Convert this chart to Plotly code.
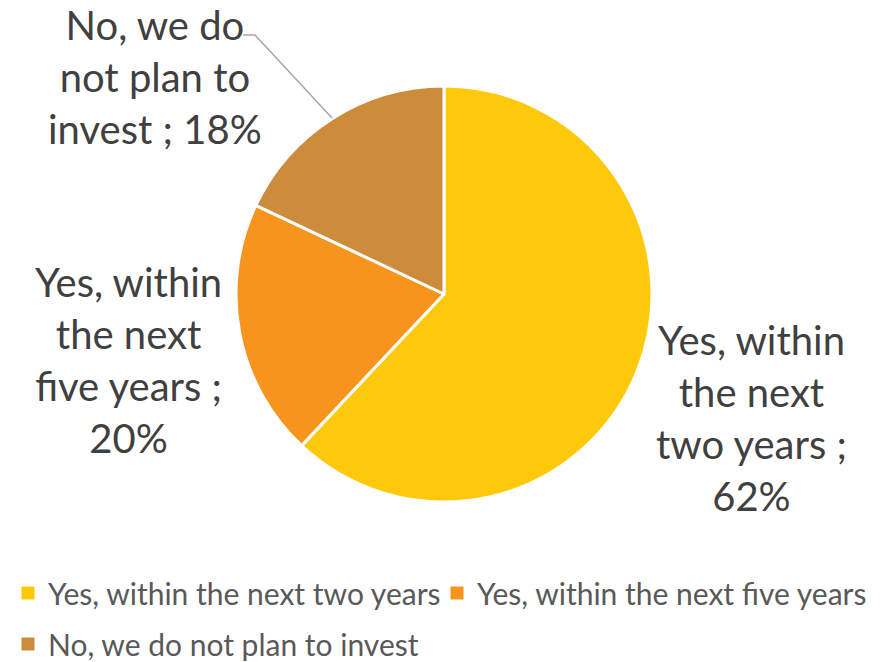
import plotly.graph_objects as go

categories = ["Yes, within the next two years", "Yes, within the next five years", "No, we do not plan to invest"]
values = [62, 20, 18]
colors = ["#FEC80B", "#F7941E", "#CD8B3C"]
label_texts = ["Yes, within<br>the next<br>two years ;<br>62%",
               "Yes, within<br>the next<br>five years ;<br>20%",
               "No, we do<br>not plan to<br>invest ; 18%"]

W, H = 892, 662
FONT = "Lato"

def px(x):
    return x / W

def py(y):
    return 1 - y / H

fig = go.Figure()
fig.add_trace(go.Pie(
    labels=categories, values=values, sort=False, direction="clockwise", rotation=0,
    marker=dict(colors=colors, line=dict(color="white", width=3)),
    textinfo="none", showlegend=False,
    domain=dict(x=[px(236), px(652)], y=[py(502), py(86)]),
))

# legend entries
for i, (c, col) in enumerate(zip(categories, colors)):
    fig.add_trace(go.Scatter(
        x=[None], y=[None], mode="markers", name=c,
        marker=dict(symbol="square", size=13, color=col),
        legend="legend" if i < 2 else "legend2",
    ))

label_pos = [(751, 418), (128, 360), (155, 77)]
anns = []
for t, (x, y) in zip(label_texts, label_pos):
    anns.append(dict(text=t, x=px(x), y=py(y), xref="paper", yref="paper",
                     xanchor="center", yanchor="middle", showarrow=False,
                     align="center", font=dict(family=FONT, size=40, color="#404040")))

leg_font = dict(family=FONT, size=30, color="#595959")
fig.update_layout(
    width=W, height=H, margin=dict(l=0, r=0, t=0, b=0, autoexpand=False),
    paper_bgcolor="white", plot_bgcolor="white",
    xaxis=dict(visible=False), yaxis=dict(visible=False),
    annotations=anns,
    shapes=[dict(type="path", xref="paper", yref="paper",
                 path=f"M {px(243)} {py(35)} L {px(255)} {py(35)} L {px(332)} {py(118)}",
                 line=dict(color="#A6A6A6", width=1.5))],
    legend=dict(orientation="h", x=px(8), xanchor="left", y=py(593), yanchor="middle",
                font=leg_font, entrywidth=384, entrywidthmode="pixels", bgcolor="rgba(0,0,0,0)"),
    legend2=dict(orientation="h", x=px(8), xanchor="left", y=py(644), yanchor="middle",
                 font=leg_font, bgcolor="rgba(0,0,0,0)"),
)

fig.write_html("out.html")
